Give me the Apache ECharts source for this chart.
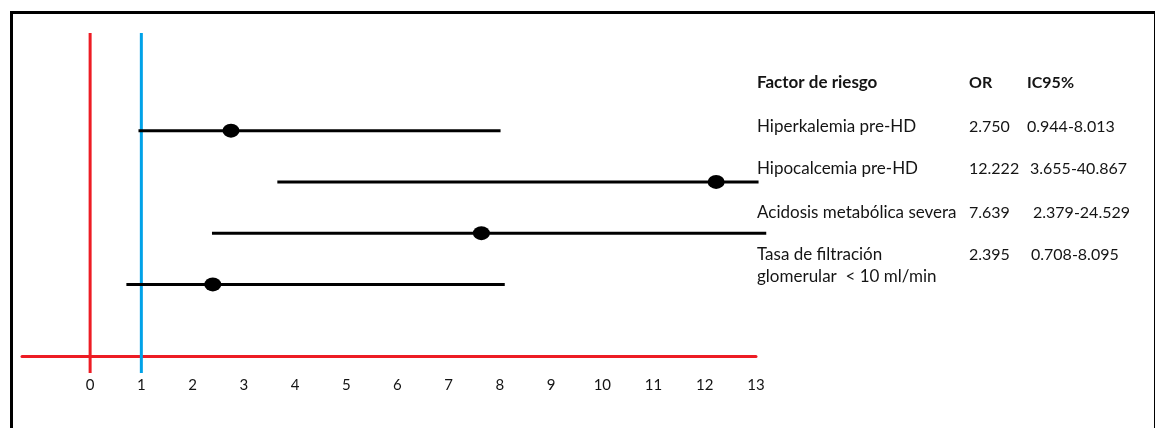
<!DOCTYPE html>
<html>
<head>
<meta charset="utf-8">
<script src="https://cdn.jsdelivr.net/npm/echarts@6/dist/echarts.min.js"></script>
<style>
  html, body { margin: 0; padding: 0; background: #fff; }
  #main { width: 1155px; height: 428px; }
</style>
</head>
<body>
<div id="main"></div>
<script>
var factors = ['Hiperkalemia pre-HD', 'Hipocalcemia pre-HD', 'Acidosis metabólica severa', 'Tasa de filtración\nglomerular  < 10 ml/min'];
var oddsRatio = [2.750, 12.222, 7.639, 2.395];
var ciLow = [0.944, 3.655, 2.379, 0.708];
// upper ends as drawn: the two wide intervals are cut just past 13
var ciHighShown = [8.013, 13.05, 13.2, 8.095];
var orLabels = ['2.750', '12.222', '7.639', '2.395'];
var ciLabels = ['0.944-8.013', '3.655-40.867', '2.379-24.529', '0.708-8.095'];
var headers = ['Factor de riesgo', 'OR', 'IC95%'];
var tickValues = [0, 1, 2, 3, 4, 5, 6, 7, 8, 9, 10, 11, 12, 13];
var refLines = [0, 1];

var refColors = ['#ED1C24', '#00A2E8'];
var font = 'Lato, "Liberation Sans", sans-serif';
var textColor = '#141414';

var myChart = echarts.init(document.getElementById('main'));

// table on the right
var headX = [757, 969, 1027];
var nameX = 757, orX = 969;
var icX = [1027, 1030, 1033, 1031];
var rowTop = [116, 158, 202, 244];
var tableEls = [];
headers.forEach(function (h, j) {
  tableEls.push({
    type: 'text', left: headX[j], top: 72,
    style: { text: h, fill: textColor, font: 'bold ' + (j === 0 ? 17 : 16) + 'px ' + font, lineHeight: 22 }
  });
});
factors.forEach(function (f, i) {
  tableEls.push({
    type: 'text', left: nameX, top: rowTop[i],
    style: { text: f, fill: textColor, font: '17px ' + font, lineHeight: 22 }
  });
  tableEls.push({
    type: 'text', left: orX, top: rowTop[i],
    style: { text: orLabels[i], fill: textColor, font: '16px ' + font, lineHeight: 22 }
  });
  tableEls.push({
    type: 'text', left: icX[i], top: rowTop[i],
    style: { text: ciLabels[i], fill: textColor, font: '16px ' + font, lineHeight: 22 }
  });
});
// frame
tableEls.push({
  type: 'rect', left: 9, top: 10, z: 0,
  shape: { width: 1144, height: 500 },
  style: { fill: 'none', stroke: '#000', lineWidth: 3 }
});

var ciData = factors.map(function (f, i) {
  return [ciLow[i], ciHighShown[i], i];
});
var dotData = factors.map(function (f, i) {
  return [oddsRatio[i], i];
});

var option = {
  animation: false,
  grid: [
    { left: 22, right: 399, top: 105, bottom: 118 },
    { left: 22, right: 399, top: 33, bottom: 55 }
  ],
  xAxis: [
    {
      gridIndex: 0, type: 'value', min: -1.33, max: 13, offset: 46,
      axisLine: { show: true, onZero: false, lineStyle: { color: '#ED1C24', width: 3 } },
      axisTick: { show: false },
      splitLine: { show: false },
      axisLabel: {
        customValues: tickValues, margin: 22, showMaxLabel: true,
        color: textColor, fontFamily: font, fontSize: 15
      }
    },
    { gridIndex: 1, type: 'value', min: -1.33, max: 13, show: false }
  ],
  yAxis: [
    {
      gridIndex: 0, type: 'category', inverse: true,
      data: factors.map(function (f, i) { return i; }),
      show: false
    },
    { gridIndex: 1, type: 'value', min: 0, max: 1, show: false }
  ],
  series: [
    {
      type: 'custom',
      xAxisIndex: 1, yAxisIndex: 1,
      data: refLines,
      silent: true,
      z: 1,
      renderItem: function (params, api) {
        var v = api.value(0);
        var p0 = api.coord([v, 1]);
        var p1 = api.coord([v, 0]);
        return {
          type: 'line',
          shape: { x1: p0[0], y1: p0[1], x2: p1[0], y2: p1[1] },
          style: { stroke: refColors[params.dataIndex], lineWidth: 3 }
        };
      }
    },
    {
      type: 'custom',
      xAxisIndex: 0, yAxisIndex: 0,
      data: ciData,
      clip: false,
      z: 3,
      renderItem: function (params, api) {
        var a = api.coord([api.value(0), api.value(2)]);
        var b = api.coord([api.value(1), api.value(2)]);
        return {
          type: 'line',
          shape: { x1: a[0], y1: a[1], x2: b[0], y2: b[1] },
          style: { stroke: '#000', lineWidth: 3 }
        };
      }
    },
    {
      type: 'scatter',
      xAxisIndex: 0, yAxisIndex: 0,
      data: dotData,
      symbol: 'circle',
      symbolSize: [17, 14],
      itemStyle: { color: '#000', opacity: 1 },
      z: 4
    }
  ],
  graphic: tableEls
};

myChart.setOption(option);
</script>
</body>
</html>
